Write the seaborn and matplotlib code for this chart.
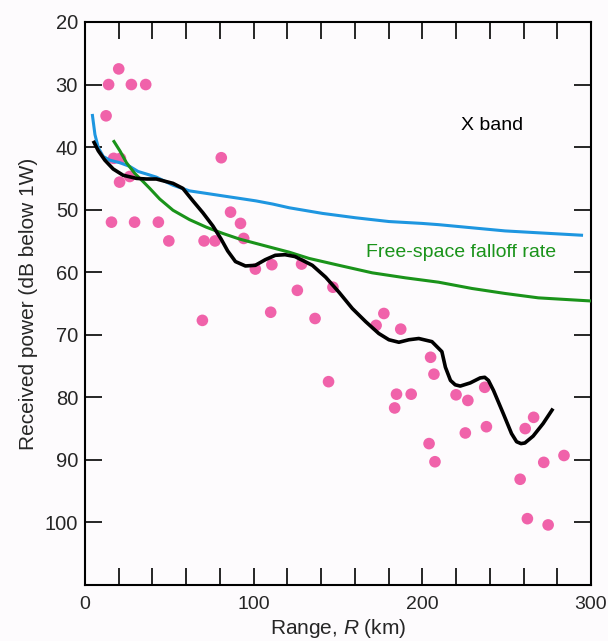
import matplotlib
matplotlib.use("Agg")
import matplotlib.pyplot as plt
import seaborn as sns
import pandas as pd

# Measured received power (dB below 1 W) versus range (km)
range_km = [12.5, 14, 20, 27.5, 36, 17, 21, 20.5, 26.5,
            15.7, 29.4, 43.5, 49.7, 70.6, 77.1, 80.8, 86.3, 92.2, 94.1,
            69.6, 101, 110.8, 110.1, 125.9, 128.4, 136.4, 147, 144.4,
            172.6, 177.2, 187.2, 184.7, 193.4, 183.6,
            204.9, 206.9, 204, 207.5, 220, 227, 237, 225.5, 238,
            258, 261, 266, 262.3, 274.6, 272, 284]
power_db = [35, 30, 27.5, 30, 30, 41.8, 41.8, 45.6, 44.7,
            52, 52, 52, 55, 55, 55, 41.7, 50.4, 52.2, 54.6,
            67.7, 59.5, 58.8, 66.4, 62.9, 58.7, 67.4, 62.4, 77.5,
            68.5, 66.6, 69.1, 79.5, 79.5, 81.7,
            73.6, 76.3, 87.4, 90.3, 79.6, 80.5, 78.4, 85.7, 84.7,
            93.1, 85, 83.2, 99.4, 100.4, 90.4, 89.3]

# Smoothed fit through the measurements
fit_km = [4.9, 7.9, 11.8, 16.7, 22.6, 30.5, 36.3, 42.3, 52.2, 58.0, 64.0, 69.9,
          75.8, 80.7, 84.6, 89.2, 95.1, 101, 106.9, 112.8, 118.6, 124.5, 130.4,
          134.8, 142.7, 150.6, 158.5, 166.4, 174.2, 180.2, 186.1, 192.0, 197.9,
          205.7, 211.6, 213.7, 216.7, 219.5, 222.5, 228.4, 234.3, 237, 239.2,
          242.2, 248, 252.9, 255.9, 258.5, 260.8, 265.7, 271.6, 277.5]
fit_db = [39.0, 40.6, 42.1, 43.5, 44.5, 45.0, 45.1, 45.1, 45.8, 46.6, 48.6, 50.5,
          52.6, 54.7, 56.6, 58.3, 59.0, 58.9, 58.0, 57.3, 57.2, 57.5, 58.3,
          58.9, 60.8, 63.2, 65.8, 67.9, 69.8, 70.8, 71.2, 70.8, 70.6,
          71.1, 72.7, 75.2, 77.3, 78.0, 78.2, 77.7, 76.9, 76.8, 77.3,
          78.9, 82.6, 85.8, 87.1, 87.4, 87.3, 86.2, 84.2, 81.8]

# Blue reference curve
blue_km = [4.3, 5.9, 7.9, 10.8, 14.8, 20.7, 26.6, 31.5, 36.4, 42.3, 52.2, 62.0,
           71.9, 81.7, 91.6, 101.4, 111.2, 121.1, 140.8, 160.5, 180.2, 199.8,
           209.7, 229.4, 249.1, 268.8, 295.3]
blue_db = [34.7, 38.0, 40.1, 41.5, 42.1, 42.5, 43.1, 43.9, 44.3, 44.8, 46.1, 47.0,
           47.4, 47.8, 48.2, 48.6, 49.1, 49.7, 50.6, 51.3, 51.9, 52.2,
           52.4, 52.9, 53.4, 53.7, 54.1]

# Free-space falloff
free_km = [16.7, 20.7, 24.6, 29.5, 34.4, 38.4, 44.3, 52.2, 62.0, 71.9, 81.7,
           91.6, 101.4, 111.2, 121.1, 132.9, 150.6, 170.3, 190.0, 209.7, 229.4,
           249.1, 268.8, 300]
free_db = [38.9, 40.6, 42.5, 44.2, 45.5, 46.6, 48.3, 50.1, 51.6, 52.8, 53.8,
           54.7, 55.4, 56.1, 56.8, 57.8, 58.9, 60.1, 60.9, 61.6, 62.6,
           63.4, 64.1, 64.6]

x_ticks = list(range(0, 301, 20))
x_labels = [str(v) if v % 100 == 0 else "" for v in x_ticks]
y_ticks = list(range(20, 101, 10))

sns.set_style("ticks")
plt.rcParams["font.family"] = ["Liberation Sans", "DejaVu Sans"]
plt.rcParams["mathtext.fontset"] = "custom"
plt.rcParams["mathtext.it"] = "Liberation Sans:italic"
plt.rcParams["mathtext.rm"] = "Liberation Sans"

bg = "#fdfbfd"
fig = plt.figure(figsize=(6.08, 6.41), dpi=100)
fig.patch.set_facecolor(bg)
ax = fig.add_axes([0.1398, 0.0874, 0.8322, 0.8783])
ax.set_facecolor(bg)

pts = pd.DataFrame({"range": range_km, "power": power_db})
fit = pd.DataFrame({"range": fit_km, "power": fit_db})
blue = pd.DataFrame({"range": blue_km, "power": blue_db})
free = pd.DataFrame({"range": free_km, "power": free_db})

line_kw = dict(sort=False, estimator=None, solid_joinstyle="round",
               solid_capstyle="butt")
sns.scatterplot(data=pts, x="range", y="power", ax=ax, s=70, color="#f062aa",
                edgecolor="none", zorder=2)
sns.lineplot(data=blue, x="range", y="power", ax=ax, color="#1e96e0",
             linewidth=2.2, zorder=3, **line_kw)
sns.lineplot(data=free, x="range", y="power", ax=ax, color="#1a931a",
             linewidth=2.2, zorder=3, **line_kw)
sns.lineplot(data=fit, x="range", y="power", ax=ax, color="black",
             linewidth=2.6, zorder=4, **line_kw)

ax.set_xlim(0, 300)
ax.set_ylim(110, 20)
ax.set_xticks(x_ticks)
ax.set_xticklabels(x_labels)
ax.set_yticks(y_ticks)

ax.tick_params(axis="x", direction="in", length=12.5, width=1.4, top=True,
               labelsize=14, pad=8)
ax.tick_params(axis="y", direction="in", length=12.5, width=1.4, right=True,
               labelsize=14.5, pad=5)
for sp in ax.spines.values():
    sp.set_visible(True)
    sp.set_linewidth(1.5)
    sp.set_color("black")

ax.set_xlabel("Range, $R$ (km)", fontsize=15, labelpad=3)
ax.set_ylabel("Received power (dB below 1W)", fontsize=15, labelpad=5)

ax.text(223, 36.5, "X band", fontsize=14, va="center", ha="left", color="black")
ax.text(166.5, 56.9, "Free-space falloff rate", fontsize=14, va="center",
        ha="left", color="#1a931a")

fig.savefig("out.png", dpi=100, facecolor=fig.get_facecolor())
